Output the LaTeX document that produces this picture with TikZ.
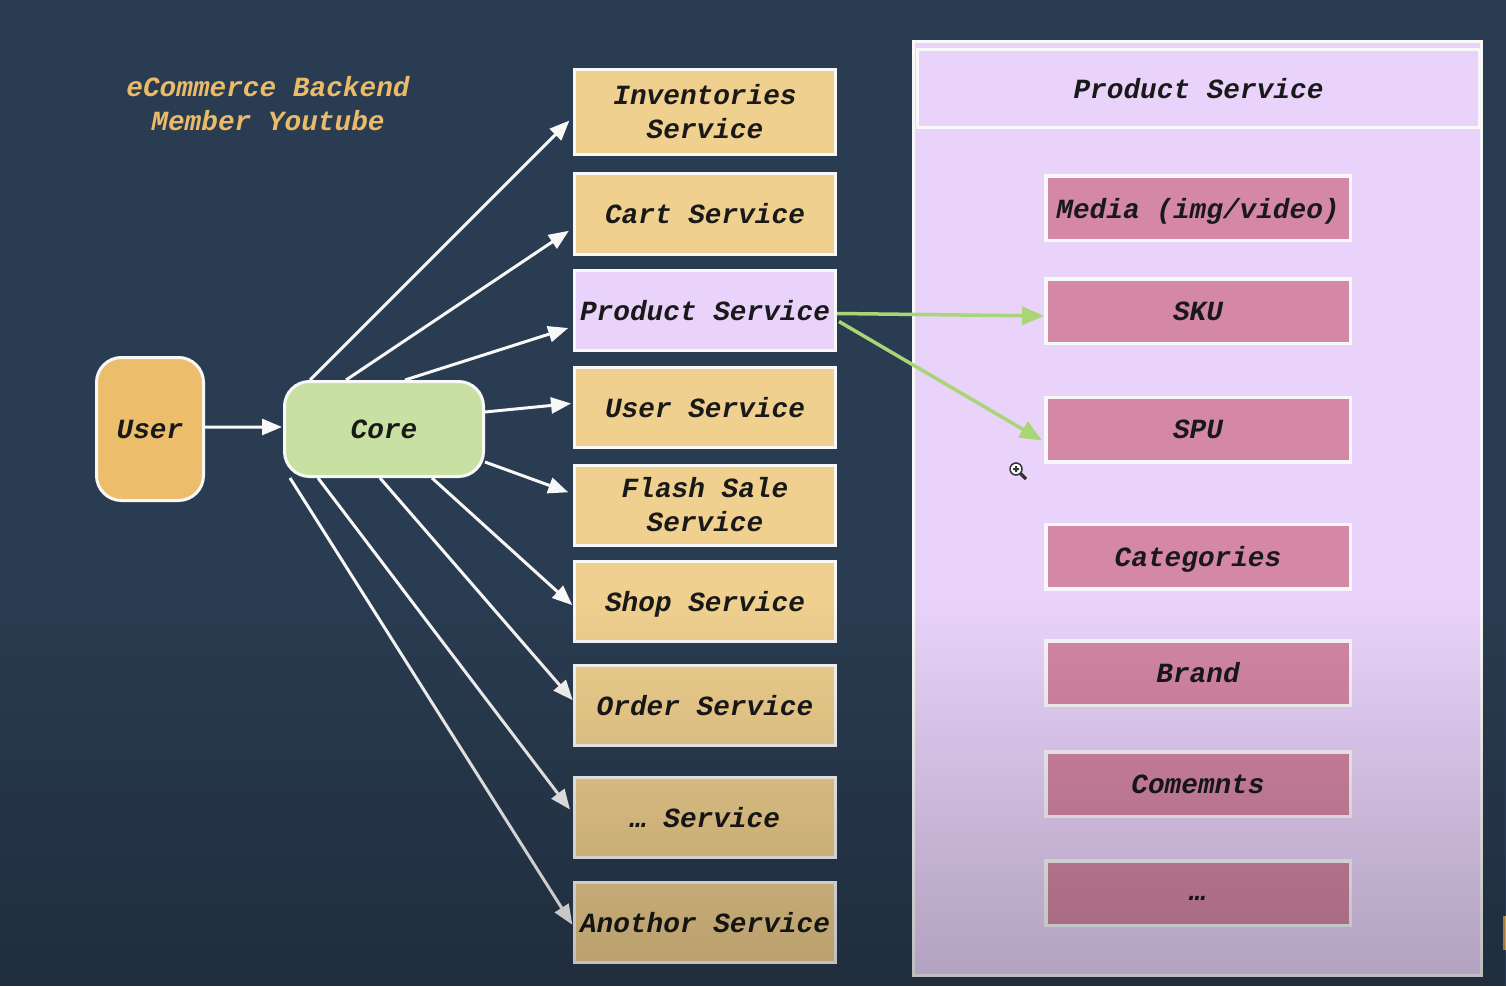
\documentclass[tikz,border=0pt]{standalone}
\usepackage{fontspec}
\usepackage{xcolor}
\setmonofont{Liberation Mono}
\usetikzlibrary{arrows.meta,fadings}

\definecolor{bgblue}{HTML}{2A3C51}
\definecolor{svcfill}{HTML}{F0D08F}
\definecolor{userfill}{HTML}{ECBE6B}
\definecolor{corefill}{HTML}{C8E0A2}
\definecolor{prodfill}{HTML}{E9D3FA}
\definecolor{subfill}{HTML}{D587A6}
\definecolor{arrowgreen}{HTML}{A9D574}
\definecolor{titlegold}{HTML}{EBBB68}
\definecolor{edgewhite}{HTML}{F8F8F8}

\tikzfading[name=dimfade, top color=transparent!100, bottom color=transparent!76]

\tikzset{
	boxtext/.style={font=\ttfamily\bfseries\itshape\fontsize{15.8}{19.35}\selectfont, text=black!90, align=center, inner sep=0pt},
	svcbox/.style={boxtext, draw=edgewhite, line width=0.06cm, fill=svcfill, minimum width=5.22cm, minimum height=1.6cm},
	subbox/.style={boxtext, draw=edgewhite, line width=0.07cm, fill=subfill, minimum width=6.09cm, minimum height=1.29cm},
	roundbox/.style={boxtext, draw=edgewhite, line width=0.06cm, rounded corners=0.5cm},
	whitearrow/.style={draw=edgewhite, line width=0.06cm, -{Triangle[length=0.4cm,width=0.32cm,fill=edgewhite]}, shorten >=0.1cm},
	greenarrow/.style={draw=arrowgreen, line width=0.07cm, -{Triangle[length=0.44cm,width=0.36cm,fill=arrowgreen]}}
}

\begin{document}
\begin{tikzpicture}[node distance=2cm]
	\useasboundingbox (0,0) rectangle (30.12,-19.72);
	\fill[bgblue] (0,0) rectangle (30.12,-19.72);

	\node[boxtext, text=titlegold] (title) at (5.36,-2.08) {eCommerce Backend\\Member Youtube};

	\node[roundbox, fill=userfill, minimum width=2.14cm, minimum height=2.86cm] (user) at (3,-8.58) {User};
	\node[roundbox, fill=corefill, minimum width=3.98cm, minimum height=1.9cm, right of = user, node distance=4.68cm] (core) {Core};

	% services column
	\node[svcbox, minimum height=1.7cm] (inv) at (14.1,-2.24) {Inventories\\Service};
	\node[svcbox, below of = inv, node distance=2.04cm] (cart) {Cart Service};
	\node[svcbox, fill=prodfill, below of = cart, node distance=1.93cm] (prod) {Product Service};
	\node[svcbox, below of = prod, node distance=1.94cm] (usersvc) {User Service};
	\node[svcbox, below of = usersvc, node distance=1.95cm] (flash) {Flash Sale\\Service};
	\node[svcbox, text depth=0pt, below of = flash, node distance=1.93cm] (shop) {Shop Service};
	\node[svcbox, below of = shop, node distance=2.08cm] (order) {Order Service};
	\node[svcbox, below of = order, node distance=2.24cm] (more) {… Service};
	\node[svcbox, below of = more, node distance=2.1cm] (another) {Anothor Service};

	% product service panel
	\node[draw=edgewhite, line width=0.06cm, fill=prodfill, minimum width=11.36cm, minimum height=18.68cm] (panel) at (23.94,-10.17) {};
	\node[boxtext, draw=edgewhite, line width=0.06cm, fill=prodfill, minimum width=11.24cm, minimum height=1.56cm] (head) at (23.97,-1.77) {Product Service};

	\node[subbox, text depth=0pt] (media) at (23.96,-4.16) {Media (img/video)};
	\node[subbox, below of = media, node distance=2.06cm] (sku) {SKU};
	\node[subbox, below of = sku, node distance=2.37cm] (spu) {SPU};
	\node[subbox, text depth=0pt, below of = spu, node distance=2.54cm] (cat) {Categories};
	\node[subbox, below of = cat, node distance=2.33cm] (brand) {Brand};
	\node[subbox, below of = brand, node distance=2.22cm] (comm) {Comemnts};
	\node[subbox, text height=0.3cm, below of = comm, node distance=2.18cm] (etc) {…};

	\path[every edge/.style={whitearrow}]
	(user.east |- 0,-8.54) edge ([xshift=0.08cm,yshift=0.04cm]core.west)
	([xshift=0.54cm]core.north west) edge ([yshift=-0.1cm]inv.west)
	([xshift=1.26cm]core.north west) edge ([yshift=-0.28cm]cart.west)
	([xshift=2.44cm]core.north west) edge ([yshift=-0.32cm]prod.west)
	([yshift=-0.64cm]core.north east) edge ([xshift=0.06cm,yshift=0.09cm]usersvc.west)
	([yshift=0.32cm]core.south east) edge ([yshift=0.22cm]flash.west)
	([xshift=-1.06cm]core.south east) edge ([xshift=0.06cm,yshift=-0.14cm]shop.west)
	([xshift=1.94cm]core.south west) edge ([xshift=0.06cm,yshift=0.03cm]order.west)
	([xshift=0.7cm]core.south west) edge ([yshift=0.08cm]more.west)
	([xshift=0.14cm]core.south west) edge ([yshift=-0.13cm,xshift=0.04cm]another.west)
	;

	\path[every edge/.style={greenarrow}]
	([yshift=-0.06cm]prod.east) edge ([yshift=-0.1cm]sku.west)
	([yshift=-0.22cm,xshift=0.04cm]prod.east) edge ([yshift=-0.22cm,xshift=-0.04cm]spu.west)
	;

	% screen cursor and corner of the player
	\draw[black!80, line width=0.03cm, fill=white] (20.32,-9.38) circle (0.12cm);
	\draw[black!80, line width=0.07cm] (20.41,-9.47) -- (20.52,-9.58);
	\fill[black!80] (20.26,-9.36) rectangle (20.38,-9.4) (20.3,-9.32) rectangle (20.34,-9.44);
	\fill[titlegold!85!black] (30.05,-18.32) rectangle (30.12,-19);

	% everything dims towards the bottom
	\fill[black, path fading=dimfade] (0,-12) rectangle (30.12,-19.72);
\end{tikzpicture}
\end{document}
